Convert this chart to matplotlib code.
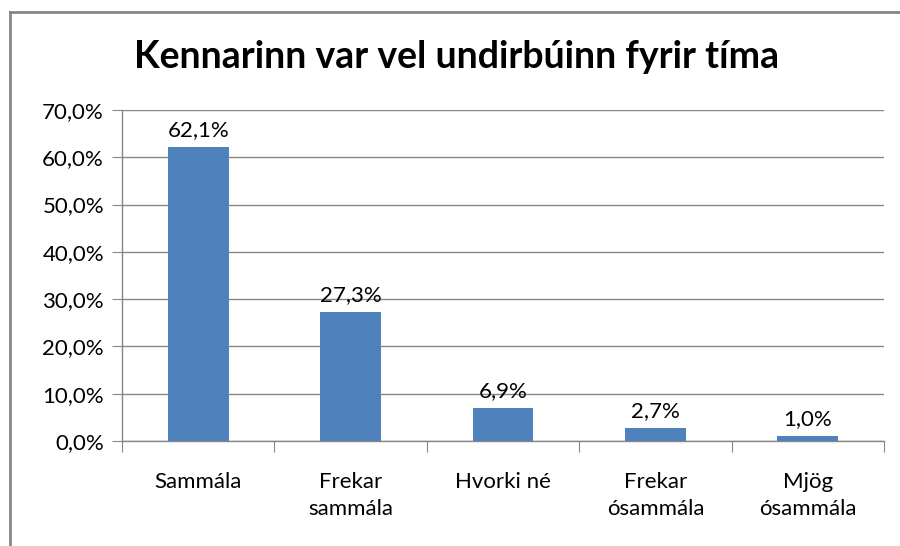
import matplotlib.pyplot as plt
from matplotlib.lines import Line2D
from matplotlib.ticker import FuncFormatter

categories = ["Sammála", "Frekar\nsammála", "Hvorki né", "Frekar\nósammála", "Mjög\nósammála"]
values = [62.1, 27.3, 6.9, 2.7, 1.0]
yticks = [0, 10, 20, 30, 40, 50, 60, 70]

plt.rcParams['font.family'] = ['Lato', 'DejaVu Sans']

W, H = 900, 546
fig = plt.figure(figsize=(9, 5.46), dpi=100)
ax = fig.add_axes([122 / W, 1 - 441 / H, (884 - 122) / W, (441 - 110) / H])

# outer chart frame: only top and left edges are inside the picture
fy = 1 - 12 / H
fx = 10 / W
fig.lines.append(Line2D([fx, 1.0], [fy, fy], transform=fig.transFigure,
                        color="#878787", linewidth=2))
fig.lines.append(Line2D([fx, fx], [0.0, fy], transform=fig.transFigure,
                        color="#878787", linewidth=2))

x = range(len(categories))
ax.bar(x, values, width=0.4, color="#4F81BD", zorder=3)
for xi, v in zip(x, values):
    ax.text(xi, v + 1.5, f"{v:.1f}%".replace(".", ","), ha="center", va="bottom", fontsize=16)

ax.set_xlim(-0.5, len(categories) - 0.5)
ax.set_ylim(0, 70)
ax.set_yticks(yticks)
ax.yaxis.set_major_formatter(FuncFormatter(lambda v, p: f"{v:.1f}%".replace(".", ",")))
ax.grid(axis="y", color="#878787", linewidth=1)
ax.set_axisbelow(True)

ax.set_xticks([i + 0.5 for i in range(-1, len(categories))])
ax.set_xticklabels([])
ax.set_xticks(list(x), minor=True)
ax.set_xticklabels(categories, minor=True, fontsize=16, linespacing=1.45)
ax.tick_params(axis="x", which="minor", length=0, pad=22)
ax.tick_params(axis="x", which="major", length=8, color="#878787")
ax.tick_params(axis="y", length=7, color="#878787", labelsize=16, pad=6)

for s in ["top", "right"]:
    ax.spines[s].set_visible(False)
for s in ["left", "bottom"]:
    ax.spines[s].set_color("#878787")
    ax.spines[s].set_linewidth(1)

fig.text(457 / W, 1 - 57 / H, "Kennarinn var vel undirbúinn fyrir tíma",
         ha="center", va="center", fontsize=27, fontweight="bold")

fig.savefig("out.png", dpi=100)
